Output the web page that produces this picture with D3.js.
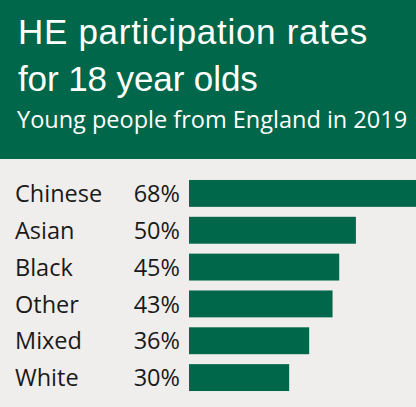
<!DOCTYPE html>
<html>
<head>
<meta charset="utf-8">
<script src="https://cdn.jsdelivr.net/npm/d3@7"></script>
<style>
  html, body { margin: 0; padding: 0; background: #efeeec; }
  svg { display: block; }
</style>
</head>
<body>
<svg id="chart" width="416" height="407"></svg>
<script>
// HE participation rates by ethnic group, 18 year olds from England, 2019
const categories = ["Chinese", "Asian", "Black", "Other", "Mixed", "White"];
const rates = [68, 50, 45, 43, 36, 30];
const titleLines = ["HE participation rates", "for 18 year olds"];
const subtitle = "Young people from England in 2019";

const W = 416, H = 407;
const green = "#00674a";
const svg = d3.select("#chart");

svg.append("rect").attr("width", W).attr("height", H).attr("fill", "#efeeec");

// header band
svg.append("rect").attr("x", 0).attr("y", 0).attr("width", W).attr("height", 159)
  .attr("fill", green);

svg.selectAll("text.title").data(titleLines).join("text")
  .attr("class", "title")
  .attr("x", 18)
  .attr("y", (d, i) => 44 + i * 47)
  .attr("fill", "#ffffff")
  .style("font-family", "'Liberation Sans', Arial, sans-serif")
  .style("font-size", "35px")
  .style("letter-spacing", (d, i) => i === 0 ? "0.7px" : "-0.1px")
  .text(d => d);

svg.append("text")
  .attr("x", 17).attr("y", 128)
  .attr("fill", "#ffffff")
  .style("font-family", "'Open Sans', sans-serif")
  .style("font-size", "23.5px")
  .text(subtitle);

// bars
const x = d3.scaleLinear().domain([0, 68]).range([189, 416]);
const y = d3.scaleBand().domain(categories).range([175, 396]).paddingInner(0.27).paddingOuter(0.135);

const rows = categories.map((c, i) => ({ cat: c, val: rates[i] }));

svg.selectAll("rect.bar").data(rows).join("rect")
  .attr("class", "bar")
  .attr("x", x(0))
  .attr("y", d => y(d.cat))
  .attr("width", d => x(d.val) - x(0))
  .attr("height", y.bandwidth())
  .attr("fill", green);

const labelFont = "'Open Sans', sans-serif";

svg.selectAll("text.cat").data(rows).join("text")
  .attr("class", "cat")
  .attr("x", 15)
  .attr("y", d => y(d.cat) + y.bandwidth() / 2)
  .attr("dy", "0.37em")
  .attr("fill", "#1a1a1a")
  .style("font-family", labelFont)
  .style("font-size", "23.5px")
  .text(d => d.cat);

svg.selectAll("text.val").data(rows).join("text")
  .attr("class", "val")
  .attr("x", 180)
  .attr("y", d => y(d.cat) + y.bandwidth() / 2)
  .attr("dy", "0.37em")
  .attr("text-anchor", "end")
  .attr("fill", "#1a1a1a")
  .style("font-family", labelFont)
  .style("font-size", "23.5px")
  .text(d => d.val + "%");
</script>
</body>
</html>
